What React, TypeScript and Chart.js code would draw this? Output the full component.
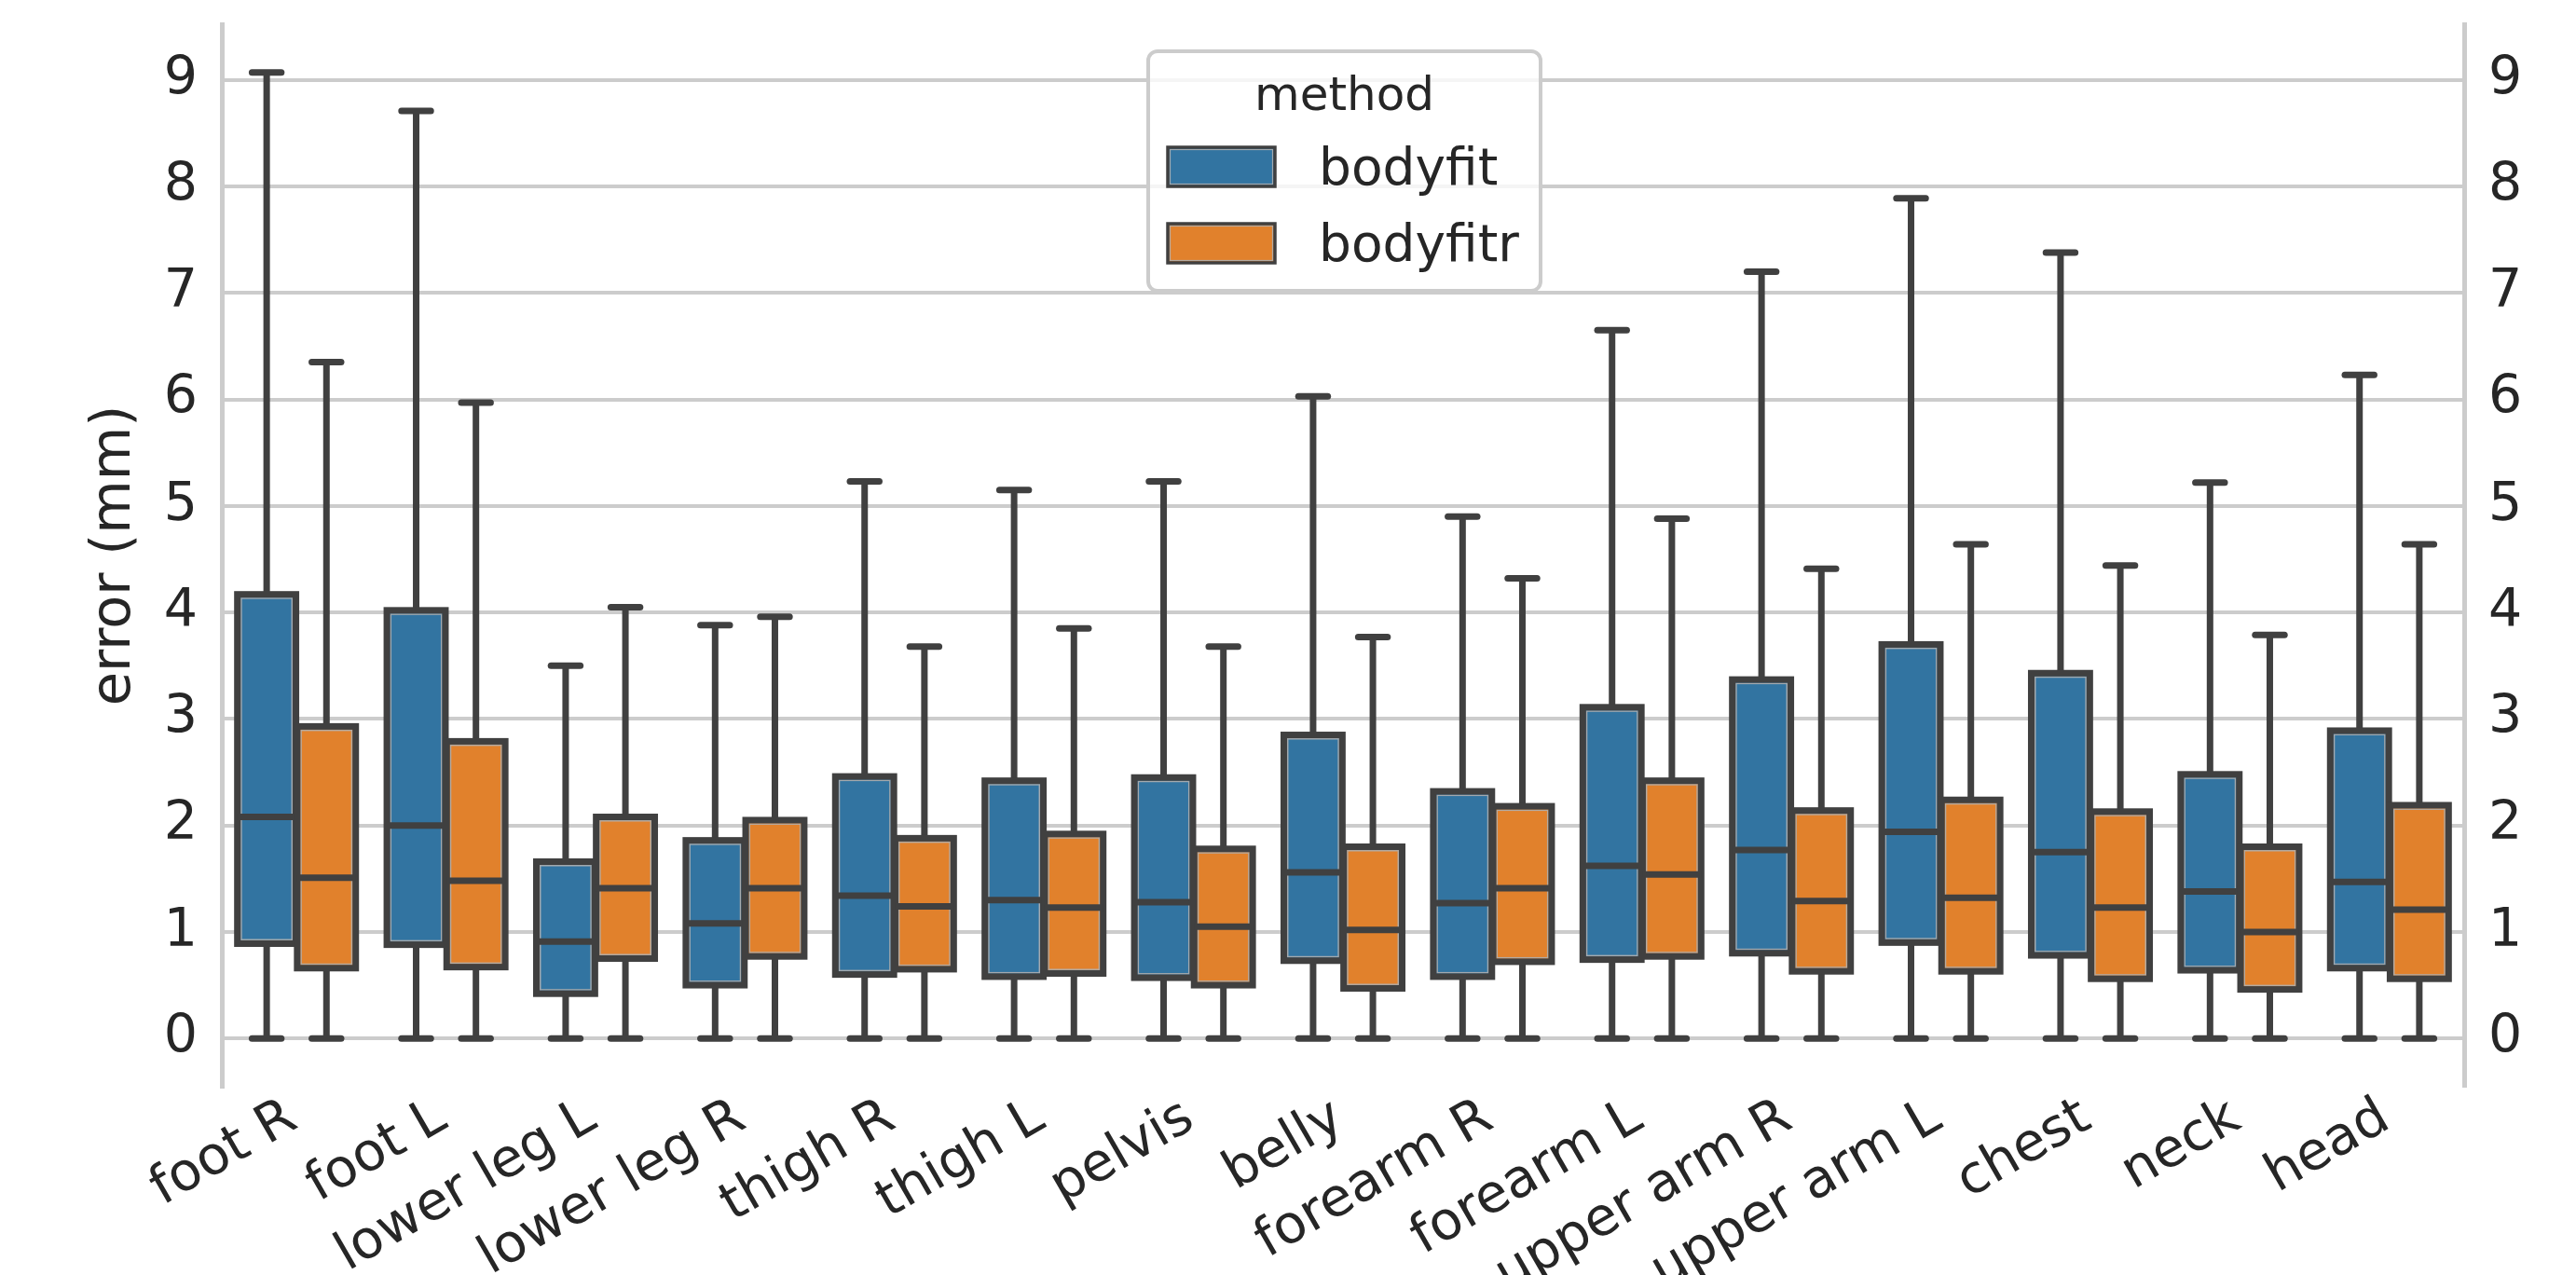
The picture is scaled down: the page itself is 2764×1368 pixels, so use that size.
import React, { useEffect, useRef } from "react";
import { Chart, registerables } from "chart.js";

Chart.register(...registerables);

// ---------- data ----------
const categories = [
  "foot R", "foot L", "lower leg L", "lower leg R", "thigh R", "thigh L", "pelvis",
  "belly", "forearm R", "forearm L", "upper arm R", "upper arm L", "chest", "neck", "head",
];
const methods = ["bodyfit", "bodyfitr"];

const bodyfitMin = [0, 0, 0, 0, 0, 0, 0, 0, 0, 0, 0, 0, 0, 0, 0];
const bodyfitQ1 = [0.89, 0.88, 0.42, 0.5, 0.6, 0.58, 0.57, 0.73, 0.58, 0.74, 0.8, 0.9, 0.78, 0.64, 0.66];
const bodyfitMedian = [2.08, 2.0, 0.91, 1.08, 1.34, 1.3, 1.28, 1.56, 1.27, 1.62, 1.77, 1.94, 1.75, 1.38, 1.47];
const bodyfitQ3 = [4.17, 4.02, 1.66, 1.86, 2.46, 2.42, 2.45, 2.85, 2.32, 3.11, 3.37, 3.7, 3.43, 2.48, 2.89];
const bodyfitMax = [9.07, 8.71, 3.5, 3.88, 5.23, 5.15, 5.23, 6.03, 4.9, 6.65, 7.2, 7.89, 7.38, 5.22, 6.23];

const bodyfitrMin = [0, 0, 0, 0, 0, 0, 0, 0, 0, 0, 0, 0, 0, 0, 0];
const bodyfitrQ1 = [0.66, 0.67, 0.75, 0.77, 0.65, 0.61, 0.5, 0.47, 0.72, 0.77, 0.63, 0.63, 0.56, 0.46, 0.56];
const bodyfitrMedian = [1.51, 1.48, 1.41, 1.41, 1.24, 1.23, 1.05, 1.02, 1.41, 1.54, 1.29, 1.32, 1.23, 1.0, 1.21];
const bodyfitrQ3 = [2.93, 2.79, 2.08, 2.05, 1.88, 1.92, 1.78, 1.8, 2.18, 2.42, 2.14, 2.24, 2.13, 1.8, 2.19];
const bodyfitrMax = [6.35, 5.97, 4.05, 3.96, 3.68, 3.85, 3.68, 3.77, 4.32, 4.88, 4.41, 4.64, 4.44, 3.79, 4.64];

const yTicks = [0, 1, 2, 3, 4, 5, 6, 7, 8, 9];
const yMin = -0.4535;
const yMax = 9.5235;

// ---------- styles ----------
const COLORS = ["#3274a1", "#e1812c"];
const LINE = "#404040";
const LW = 7;
const GRID = "#cccccc";
const TEXT = "#262626";
const FONT = "'DejaVu Sans', sans-serif";

const stats = [
  { min: bodyfitMin, q1: bodyfitQ1, med: bodyfitMedian, q3: bodyfitQ3, max: bodyfitMax },
  { min: bodyfitrMin, q1: bodyfitrQ1, med: bodyfitrMedian, q3: bodyfitrQ3, max: bodyfitrMax },
];

function seg(ctx: CanvasRenderingContext2D, x1: number, y1: number, x2: number, y2: number) {
  ctx.beginPath();
  ctx.moveTo(x1, y1);
  ctx.lineTo(x2, y2);
  ctx.stroke();
}

const boxPlugin = {
  id: "boxDecor",
  afterDatasetsDraw(chart: any) {
    const ctx: CanvasRenderingContext2D = chart.ctx;
    const ys = chart.scales.y;
    ctx.save();
    stats.forEach((s, di) => {
      const meta = chart.getDatasetMeta(di);
      meta.data.forEach((bar: any, i: number) => {
        const { x, width } = bar.getProps(["x", "width"], true);
        const half = width / 2;
        const top = ys.getPixelForValue(s.q3[i]);
        const bottom = ys.getPixelForValue(s.q1[i]);
        const med = ys.getPixelForValue(s.med[i]);
        const hi = ys.getPixelForValue(s.max[i]);
        const lo = ys.getPixelForValue(s.min[i]);
        ctx.strokeStyle = LINE;
        ctx.lineWidth = LW;
        ctx.lineCap = "butt";
        seg(ctx, x, top, x, hi);
        seg(ctx, x, bottom, x, lo);
        ctx.lineCap = "round";
        seg(ctx, x - half / 2, hi, x + half / 2, hi);
        seg(ctx, x - half / 2, lo, x + half / 2, lo);
        ctx.lineCap = "butt";
        // thin light inner edge
        ctx.strokeStyle = "rgba(175,175,175,0.9)";
        ctx.lineWidth = 1.5;
        const inset = LW / 2 + 0.75;
        ctx.strokeRect(x - half + inset, top + inset, width - 2 * inset, bottom - top - 2 * inset);
        // outline
        ctx.strokeStyle = LINE;
        ctx.lineWidth = LW;
        ctx.lineJoin = "miter";
        ctx.strokeRect(x - half, top, width, bottom - top);
        // median
        seg(ctx, x - half, med, x + half, med);
      });
    });
    ctx.restore();
  },
};

const legendPlugin = {
  id: "customLegend",
  afterDraw(chart: any) {
    const ctx: CanvasRenderingContext2D = chart.ctx;
    ctx.save();
    const fx = 1232, fy = 55, fw = 421, fh = 257, r = 10;
    ctx.beginPath();
    ctx.roundRect(fx, fy, fw, fh, r);
    ctx.fillStyle = "rgba(255,255,255,0.8)";
    ctx.fill();
    ctx.strokeStyle = GRID;
    ctx.lineWidth = 4;
    ctx.stroke();

    ctx.fillStyle = TEXT;
    ctx.font = `50px ${FONT}`;
    ctx.textAlign = "center";
    ctx.textBaseline = "alphabetic";
    ctx.fillText("method", fx + fw / 2, 118);

    methods.forEach((m, i) => {
      const py = 158 + i * 82;
      ctx.fillStyle = COLORS[i];
      ctx.fillRect(1253, py, 115, 42);
      ctx.strokeStyle = "rgba(175,175,175,0.9)";
      ctx.lineWidth = 1.2;
      ctx.strokeRect(1255.5, py + 2.5, 110, 37);
      ctx.strokeStyle = LINE;
      ctx.lineWidth = 3.5;
      ctx.strokeRect(1253, py, 115, 42);
      ctx.fillStyle = TEXT;
      ctx.font = `55px ${FONT}`;
      ctx.textAlign = "left";
      ctx.fillText(m, 1415, 198 + i * 82);
    });
    ctx.restore();
  },
};

export default function App() {
  const canvasRef = useRef<HTMLCanvasElement | null>(null);

  useEffect(() => {
    document.body.style.margin = "0";
    const canvas = canvasRef.current;
    if (!canvas) return;

    const datasets = stats.map((s, di) => ({
      label: methods[di],
      data: s.q1.map((q1, i) => [q1, s.q3[i]]),
      backgroundColor: COLORS[di],
      borderWidth: 0,
      categoryPercentage: 0.8,
      barPercentage: 0.98,
    }));

    const yTickCommon = {
      color: TEXT,
      font: { family: FONT, size: 57 },
      padding: 26,
      callback: (v: any) => String(v),
    };

    const chart = new Chart(canvas, {
      type: "bar",
      data: { labels: categories, datasets: datasets as any },
      plugins: [boxPlugin, legendPlugin],
      options: {
        responsive: false,
        maintainAspectRatio: false,
        devicePixelRatio: 1,
        animation: false,
        layout: { padding: { top: 26, left: 0, right: 0, bottom: 0 } },
        plugins: {
          legend: { display: false },
          tooltip: { enabled: false },
        },
        scales: {
          x: {
            type: "category",
            offset: true,
            grid: { display: false, drawTicks: false },
            border: { display: false },
            ticks: {
              color: TEXT,
              font: { family: FONT, size: 57 },
              minRotation: 30,
              maxRotation: 30,
              autoSkip: false,
              padding: 0,
              labelOffset: -4,
            },
            afterFit: (s: any) => {
              s.height = 202;
              s.paddingLeft = 0;
              s.paddingRight = 0;
            },
          },
          y: {
            type: "linear",
            position: "left",
            min: yMin,
            max: yMax,
            grid: { color: GRID, lineWidth: 4, drawTicks: false },
            border: { display: true, color: GRID, width: 5 },
            ticks: yTickCommon,
            title: {
              display: true,
              text: "error (mm)",
              color: TEXT,
              font: { family: FONT, size: 59 },
              padding: { top: 88, bottom: 0 },
            },
            afterBuildTicks: (s: any) => {
              s.ticks = yTicks.map((v) => ({ value: v }));
            },
            afterFit: (s: any) => {
              s.width = 238;
              s.paddingTop = 0;
              s.paddingBottom = 0;
            },
          },
          y2: {
            type: "linear",
            position: "right",
            min: yMin,
            max: yMax,
            grid: { display: false, drawTicks: false },
            border: { display: true, color: GRID, width: 5 },
            ticks: yTickCommon,
            afterBuildTicks: (s: any) => {
              s.ticks = yTicks.map((v) => ({ value: v }));
            },
            afterFit: (s: any) => {
              s.width = 120;
              s.paddingTop = 0;
              s.paddingBottom = 0;
            },
          },
        },
      } as any,
    });

    return () => chart.destroy();
  }, []);

  return (
    <div style={{ width: 2764, height: 1368, background: "#ffffff" }}>
      <canvas ref={canvasRef} width={2764} height={1368} style={{ display: "block" }} />
    </div>
  );
}
